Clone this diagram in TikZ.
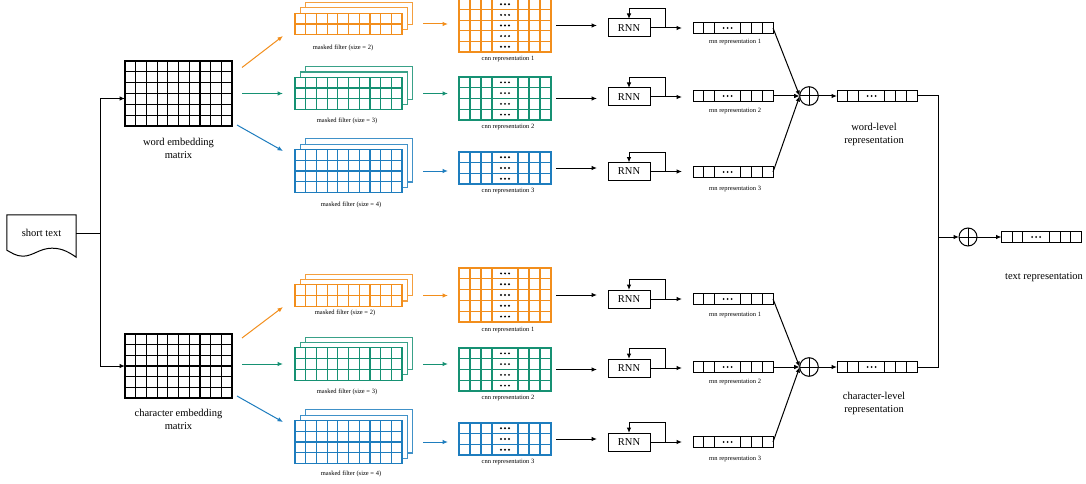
\documentclass[tikz,border=0pt]{standalone}
\usepackage{fontspec}
\setmainfont{Liberation Serif}
\usepackage{tikz}
\usetikzlibrary{arrows.meta, positioning, calc}

\definecolor{filorange}{RGB}{242,142,28}
\definecolor{filgreen}{RGB}{22,145,115}
\definecolor{filblue}{RGB}{30,125,190}

% inner lines of a regular grid node
\newcommand{\gridlines}[4]{%
  \pgfmathtruncatemacro{\lastcol}{#3-1}
  \pgfmathtruncatemacro{\lastrow}{#4-1}
  \foreach \i in {1,...,\lastcol}
    \draw[#1] ($(#2.north west)!\i/#3!(#2.north east)$) -- ($(#2.south west)!\i/#3!(#2.south east)$);
  \foreach \j in {1,...,\lastrow}
    \draw[#1] ($(#2.north west)!\j/#4!(#2.south west)$) -- ($(#2.north east)!\j/#4!(#2.south east)$);
}

% stack of three masked filters
\newcommand{\filterstack}[5]{%
  \pgfmathsetmacro{\filh}{10.8*#5}
  \foreach \k in {2,1}
    \draw[#2!85, line width=1.1pt, fill=white] (#3-53.5+5.3*\k, #4-\filh/2-5.3*\k) rectangle ++(107,\filh);
  \node[filbox, draw=#2, minimum height=\filh] (#1) at (#3,#4) {};
  \gridlines{#2, line width=1.2pt}{#1}{10}{#5}
}

% cnn output grid with a column of dots
\newcommand{\cnngrid}[3]{%
  \foreach \c in {11,22,33,59,70,81}
    \draw[#3, line width=1.2pt] ($(#1.north west)+(\c,0)$) -- ($(#1.south west)+(\c,0)$);
  \pgfmathtruncatemacro{\lastrow}{#2-1}
  \foreach \j in {1,...,\lastrow}
    \draw[#3, line width=1.2pt] ($(#1.north west)!\j/#2!(#1.south west)$) -- ($(#1.north east)!\j/#2!(#1.south east)$);
  \foreach \j in {1,...,#2}{
    \pgfmathsetmacro{\rowpos}{(\j-0.5)/#2}
    \foreach \d in {42,46,50}
      \fill ($(#1.north west)!\rowpos!(#1.south west)+(\d,0)$) circle (1.1pt);
  }
}

% vector cells with dots
\newcommand{\vecgrid}[1]{%
  \foreach \c in {10.7,21.4,47.9,58.6,69.3}
    \draw[line width=1pt] ($(#1.north west)+(\c,0)$) -- ($(#1.south west)+(\c,0)$);
  \foreach \d in {30.6,34.6,38.6}
    \fill ($(#1.west)+(\d,0)$) circle (1.1pt);
}

\begin{document}
\begin{tikzpicture}[
        x=1pt, y=-1pt,
        bigtext/.style={font=\fontsize{10.5}{13}\selectfont, align=center},
        smalltext/.style={font=\fontsize{6.5}{7.5}\selectfont},
        doc/.style={minimum width=69pt, minimum height=36pt, inner sep=0pt, bigtext},
        matbox/.style={draw, line width=1.2pt, inner sep=0pt, outer sep=0pt, minimum width=107pt},
        filbox/.style={draw, fill=white, line width=1.2pt, inner sep=0pt, outer sep=0pt, minimum width=107pt},
        cnnbox/.style={draw, line width=1.2pt, inner sep=0pt, outer sep=0pt, minimum width=92pt},
        vecbox/.style={draw, line width=1pt, inner sep=0pt, outer sep=0pt, minimum width=80pt, minimum height=11pt},
        rnnbox/.style={draw, line width=1pt, inner sep=0pt, outer sep=0pt, minimum width=42pt, minimum height=18pt, bigtext},
        sumnode/.style={circle, draw, line width=1pt, inner sep=0pt, outer sep=0pt, minimum size=18.6pt},
        conn/.style={draw, line width=1pt},
        line/.style={draw, -{Latex[length=5.5pt,width=4.5pt]}, line width=1pt}
    ]
        \useasboundingbox (0,0) rectangle (1086,484);

        % input
        \node [doc] (short) at (41.5,233) {short text};
        \draw [conn] (short.north west) -- (short.north east) -- ($(short.south east)+(0,6)$)
            .. controls ($(short.south east)+(-10,-1)$) and ($(short.south west)+(53,-3)$) .. ($(short.south west)+(45,-3)$)
            .. controls ($(short.south west)+(33,-3)$) and ($(short.south west)+(26,5)$) .. ($(short.south west)+(16,5)$)
            .. controls ($(short.south west)+(9,5)$) and ($(short.south west)+(4,1)$) .. ($(short.south west)+(0,-1)$) -- cycle;

        % embedding matrices
        \node [matbox, minimum height=65pt] (wordmat) at (178.5,93.5) {};
        \gridlines{line width=1.2pt}{wordmat}{10}{6}
        \node [matbox, minimum height=64pt] (charmat) at (178.5,366) {};
        \gridlines{line width=1.2pt}{charmat}{10}{6}
        \node [bigtext] (wordlbl) at (178.5,148) {word embedding\\matrix};
        \node [bigtext] (charlbl) at (178.5,419.5) {character embedding\\matrix};

        \coordinate (split) at ($(short.east)+(24,0)$);
        \path [conn] (short.east) -- (split);
        \path [line] (split) |- ($(wordmat.west)+(0,5)$);
        \path [line] (split) |- (charmat.west);

        % masked filters
        \filterstack{filA}{filorange}{348.5}{24}{2}
        \filterstack{filB}{filgreen}{348.5}{93.5}{3}
        \filterstack{filC}{filblue}{348.5}{171}{4}
        \filterstack{filD}{filorange}{348.5}{295.5}{2}
        \filterstack{filE}{filgreen}{348.5}{364}{3}
        \filterstack{filF}{filblue}{348.5}{442}{4}

        \node [smalltext] (filAlbl) at (343,47.5) {masked filter (size = 2)};
        \node [smalltext] (filBlbl) at (347,121) {masked filter (size = 3)};
        \node [smalltext] (filClbl) at (351,205) {masked filter (size = 4)};
        \node [smalltext] (filDlbl) at (345,313) {masked filter (size = 2)};
        \node [smalltext] (filElbl) at (347,392) {masked filter (size = 3)};
        \node [smalltext] (filFlbl) at (351,474) {masked filter (size = 4)};

        \path [line, filorange] ($(wordmat.east)+(10,-26)$) -- ($(filA.west)+(-12,12)$);
        \path [line, filgreen] ($(wordmat.east)+(10,0)$) -- ($(filB.west)+(-12,0)$);
        \path [line, filblue] ($(wordmat.east)+(5,31.5)$) -- ($(filC.west)+(-12,-20)$);
        \path [line, filorange] ($(charmat.east)+(10,-28)$) -- ($(filD.west)+(-12,11.5)$);
        \path [line, filgreen] ($(charmat.east)+(10,-2)$) -- ($(filE.west)+(-12,0)$);
        \path [line, filblue] ($(charmat.east)+(5,30)$) -- ($(filF.west)+(-12,-20)$);

        % cnn representations
        \node [cnnbox, draw=filorange, minimum height=53pt] (cnnA) at (505,25.5) {};
        \cnngrid{cnnA}{5}{filorange}
        \node [cnnbox, draw=filgreen, minimum height=43pt] (cnnB) at (505,98.5) {};
        \cnngrid{cnnB}{4}{filgreen}
        \node [cnnbox, draw=filblue, minimum height=32pt] (cnnC) at (505,168) {};
        \cnngrid{cnnC}{3}{filblue}
        \node [cnnbox, draw=filorange, minimum height=54pt] (cnnD) at (505,295) {};
        \cnngrid{cnnD}{5}{filorange}
        \node [cnnbox, draw=filgreen, minimum height=43pt] (cnnE) at (505,369.5) {};
        \cnngrid{cnnE}{4}{filgreen}
        \node [cnnbox, draw=filblue, minimum height=32pt] (cnnF) at (505,439) {};
        \cnngrid{cnnF}{3}{filblue}

        \node [smalltext] (cnnAlbl) at (508,59) {cnn representation 1};
        \node [smalltext] (cnnBlbl) at (508,127) {cnn representation 2};
        \node [smalltext] (cnnClbl) at (508,191) {cnn representation 3};
        \node [smalltext] (cnnDlbl) at (508,330) {cnn representation 1};
        \node [smalltext] (cnnElbl) at (508,398) {cnn representation 2};
        \node [smalltext] (cnnFlbl) at (508,462) {cnn representation 3};

        \path [line, filorange, shorten <=21pt, shorten >=11pt] (filA.east) -- (filA.east -| cnnA.west);
        \path [line, filgreen, shorten <=21pt, shorten >=11pt] (filB.east) -- (filB.east -| cnnB.west);
        \path [line, filblue, shorten <=21pt, shorten >=11pt] (filC.east) -- (filC.east -| cnnC.west);
        \path [line, filorange, shorten <=21pt, shorten >=11pt] (filD.east) -- (filD.east -| cnnD.west);
        \path [line, filgreen, shorten <=21pt, shorten >=11pt] (filE.east) -- (filE.east -| cnnE.west);
        \path [line, filblue, shorten <=21pt, shorten >=11pt] (filF.east) -- (filF.east -| cnnF.west);

        % rnn
        \node [rnnbox] (rnnA) at (629,28) {RNN};
        \node [rnnbox] (rnnB) at (629,97) {RNN};
        \node [rnnbox] (rnnC) at (629,171.5) {RNN};
        \node [rnnbox] (rnnD) at (629,299) {RNN};
        \node [rnnbox] (rnnE) at (629,368) {RNN};
        \node [rnnbox] (rnnF) at (629,442) {RNN};

        \node [vecbox] (repA) at (733,28) {};
        \node [vecbox] (repB) at (733,96) {};
        \node [vecbox] (repC) at (733,172) {};
        \node [vecbox] (repD) at (733,299) {};
        \node [vecbox] (repE) at (733,367) {};
        \node [vecbox] (repF) at (733,442) {};

        \node [smalltext] (repAlbl) at (735,42.5) {rnn representation 1};
        \node [smalltext] (repBlbl) at (735,111.5) {rnn representation 2};
        \node [smalltext] (repClbl) at (735,189) {rnn representation 3};
        \node [smalltext] (repDlbl) at (735,315) {rnn representation 1};
        \node [smalltext] (repElbl) at (735,382) {rnn representation 2};
        \node [smalltext] (repFlbl) at (735,459) {rnn representation 3};

        \foreach \n in {A,B,C,D,E,F}{
            \vecgrid{rep\n}
            \path [line, shorten <=5pt, shorten >=11pt] (cnn\n.east) -- (cnn\n.east -| rnn\n.west);
            \path [line, shorten >=11pt] (rnn\n.east) -- (rnn\n.east -| rep\n.west);
            \path [line] ($(rnn\n.east)+(15,0)$) |- ($(rnn\n.north)+(0,-10.5)$) -- (rnn\n.north);
        }

        % merging
        \node [sumnode] (sumA) at (809,96) {};
        \node [sumnode] (sumB) at (809,367) {};
        \node [sumnode, minimum size=18pt] (sumC) at (968,237) {};
        \foreach \s in {sumA,sumB,sumC}
            \draw [conn] (\s.north) -- (\s.south) (\s.west) -- (\s.east);

        \path [line] (repA.east) -- (sumA.west);
        \path [line] (repB.east) -- (sumA.west);
        \path [line] (repC.east) -- (sumA.west);
        \path [line] (repD.east) -- (sumB.west);
        \path [line] (repE.east) -- (sumB.west);
        \path [line] (repF.east) -- (sumB.west);

        \node [vecbox] (wordrep) at (877,96) {};
        \vecgrid{wordrep}
        \node [vecbox] (charrep) at (877,367) {};
        \vecgrid{charrep}
        \node [bigtext] (wordreplbl) at (874,134.5) {word-level\\representation};
        \node [bigtext] (charreplbl) at (874,403.5) {character-level\\representation};

        \path [line] (sumA.east) -- (wordrep.west);
        \path [line] (sumB.east) -- (charrep.west);

        \coordinate (merge) at ($(wordrep.east)+(21,0)$);
        \path [conn] (wordrep.east) -- (merge) |- (charrep.east);
        \path [line] (merge |- sumC.west) -- (sumC.west);

        % output
        \node [vecbox] (textrep) at (1041.5,237) {};
        \vecgrid{textrep}
        \node [bigtext] (textreplbl) at (1044,277) {text representation};
        \path [line] (sumC.east) -- (textrep.west);

\end{tikzpicture}
\end{document}
